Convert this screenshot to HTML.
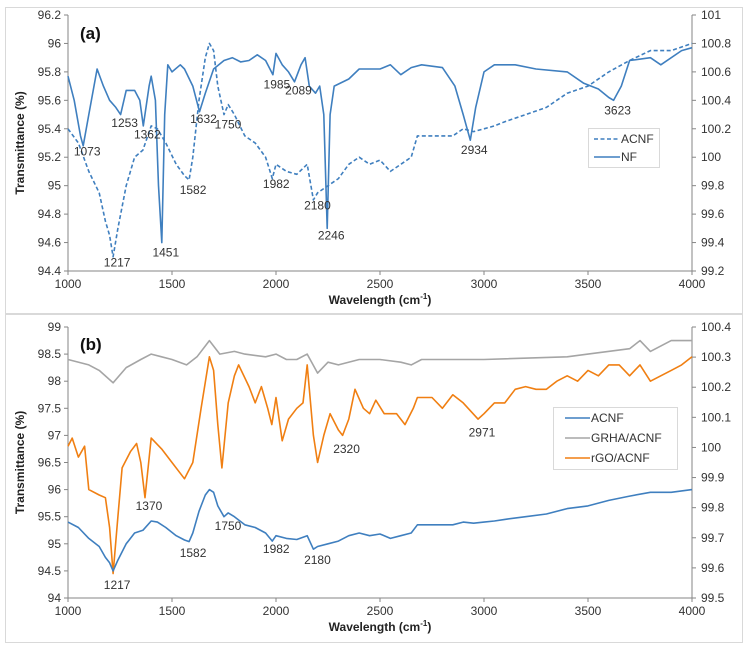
<!DOCTYPE html>
<html><head><meta charset="utf-8"><style>
body{margin:0;background:#fff;}
svg{display:block;font-family:"Liberation Sans",Arial,sans-serif;}
</style></head><body>
<svg id="chart" width="749" height="647" viewBox="0 0 749 647"></svg>
<script>
// ---- data ----
const acnfX=[1000,1050,1100,1150,1180,1200,1217,1240,1280,1320,1360,1400,1430,1470,1520,1560,1582,1600,1630,1660,1680,1700,1720,1750,1770,1800,1850,1900,1950,1982,2000,2050,2100,2150,2180,2200,2250,2300,2350,2400,2450,2500,2550,2600,2650,2680,2750,2850,2900,2950,3000,3050,3100,3200,3300,3400,3500,3600,3700,3800,3900,4000];
const acnfY=[95.4,95.3,95.1,94.95,94.75,94.65,94.5,94.7,95.0,95.2,95.25,95.42,95.4,95.3,95.15,95.07,95.04,95.2,95.6,95.9,96.0,95.95,95.7,95.5,95.57,95.5,95.35,95.3,95.2,95.05,95.15,95.1,95.08,95.15,94.9,94.95,95.0,95.05,95.15,95.2,95.15,95.18,95.1,95.15,95.2,95.35,95.35,95.35,95.4,95.38,95.4,95.42,95.45,95.5,95.55,95.65,95.7,95.8,95.88,95.95,95.95,96.0];
const nfX=[1000,1030,1060,1073,1100,1140,1170,1200,1230,1253,1280,1320,1345,1362,1390,1400,1420,1435,1451,1465,1480,1500,1540,1560,1600,1632,1660,1700,1750,1790,1830,1870,1910,1950,1985,2000,2030,2060,2089,2120,2140,2160,2190,2210,2230,2246,2260,2280,2350,2400,2500,2550,2600,2650,2700,2800,2860,2900,2934,2960,3000,3050,3150,3250,3400,3480,3550,3600,3623,3660,3700,3800,3850,3950,4000];
const nfY=[100.57,100.4,100.15,100.08,100.3,100.62,100.5,100.4,100.35,100.3,100.47,100.47,100.4,100.22,100.5,100.57,100.4,99.8,99.4,100.3,100.65,100.6,100.65,100.62,100.5,100.32,100.45,100.62,100.68,100.7,100.67,100.68,100.72,100.68,100.58,100.73,100.65,100.6,100.53,100.65,100.7,100.5,100.45,100.5,100.3,99.5,100.3,100.5,100.55,100.62,100.62,100.65,100.58,100.63,100.65,100.63,100.5,100.3,100.12,100.35,100.6,100.65,100.65,100.62,100.6,100.52,100.48,100.42,100.4,100.5,100.68,100.7,100.65,100.75,100.77];
const grhaX=[1000,1100,1150,1217,1280,1350,1400,1450,1500,1570,1620,1680,1730,1800,1850,1950,2000,2050,2100,2150,2200,2250,2300,2400,2500,2600,2650,2700,3000,3400,3500,3700,3750,3800,3900,4000];
const grhaY=[98.4,98.3,98.2,97.97,98.25,98.4,98.5,98.45,98.4,98.3,98.45,98.75,98.5,98.55,98.5,98.45,98.5,98.4,98.4,98.5,98.15,98.35,98.3,98.4,98.4,98.35,98.3,98.4,98.4,98.45,98.5,98.6,98.75,98.55,98.75,98.75];
const rgoX=[1000,1020,1050,1080,1100,1150,1180,1200,1217,1240,1260,1300,1330,1350,1370,1400,1450,1500,1540,1560,1600,1640,1680,1700,1720,1740,1770,1800,1820,1870,1900,1930,1960,1980,2000,2030,2060,2100,2130,2150,2180,2200,2230,2260,2300,2320,2350,2380,2420,2450,2480,2520,2580,2620,2660,2680,2750,2800,2850,2900,2971,3000,3050,3100,3150,3200,3250,3300,3350,3400,3450,3500,3550,3600,3650,3700,3750,3800,3850,3900,3950,4000];
const rgoY=[96.8,96.95,96.6,96.8,96.0,95.9,95.85,95.3,94.45,95.5,96.4,96.7,96.85,96.5,95.85,96.95,96.75,96.5,96.3,96.2,96.5,97.5,98.45,98.2,97.2,96.4,97.6,98.1,98.3,97.9,97.6,97.9,97.5,97.2,97.7,96.9,97.3,97.5,97.6,98.3,97.0,96.5,97.0,97.4,97.1,97.0,97.3,97.85,97.5,97.4,97.65,97.4,97.4,97.2,97.5,97.7,97.7,97.5,97.75,97.6,97.3,97.4,97.6,97.6,97.85,97.9,97.85,97.85,98.0,98.1,98.0,98.2,98.1,98.3,98.3,98.1,98.3,98.0,98.1,98.2,98.3,98.45];
const xTicks=[1000,1500,2000,2500,3000,3500,4000];
const aLeftTicks=["94.4","94.6","94.8","95","95.2","95.4","95.6","95.8","96","96.2"];
const aRightTicks=["99.2","99.4","99.6","99.8","100","100.2","100.4","100.6","100.8","101"];
const bLeftTicks=["94","94.5","95","95.5","96","96.5","97","97.5","98","98.5","99"];
const bRightTicks=["99.5","99.6","99.7","99.8","99.9","100","100.1","100.2","100.3","100.4"];
const aLabelText=["1073","1253","1362","1217","1451","1582","1632","1750","1985","2089","1982","2180","2246","2934","3623"];
const aLabelY=[95.24,95.44,95.36,94.46,94.53,94.97,95.47,95.43,95.71,95.67,95.01,94.86,94.65,95.25,95.53];
const bLabelText=["1217","1370","1582","1750","1982","2180","2320","2971"];
const bLabelY=[94.24,95.70,94.83,95.33,94.90,94.70,96.75,97.05];

const NS="http://www.w3.org/2000/svg";
const svg=document.getElementById('chart');
function mk(tag,attrs,parent,text){const e=document.createElementNS(NS,tag);for(const k in attrs)e.setAttribute(k,attrs[k]);if(text!==undefined)e.textContent=text;(parent||svg).appendChild(e);return e;}
const X0=68,X1=692;
const xs=v=>X0+(v-1000)/3000*(X1-X0);
function lin(d0,d1,r0,r1){return v=>r0+(v-d0)/(d1-d0)*(r1-r0);}
const C_BLUE="#3f7fbf",C_GRAY="#a5a5a5",C_OR="#f07f12";

function frame(y0,h,name){const r=mk('rect',{x:5.5,y:y0+0.5,width:737,height:h,fill:'none',stroke:'#d9d9d9'});}
frame(7,306,'panel-a-frame');frame(314,328,'panel-b-frame');

function axes(g,yTop,yBot,lt,rt,yl,yr,pfx){
  const gl=mk('g',{},g);
  mk('line',{x1:X0,y1:yTop,x2:X0,y2:yBot,stroke:'#868686'},gl);
  mk('line',{x1:X1,y1:yTop,x2:X1,y2:yBot,stroke:'#868686'},gl);
  mk('line',{x1:X0,y1:yBot,x2:X1,y2:yBot,stroke:'#868686'},gl);
  lt.forEach(t=>{const y=yl(parseFloat(t));mk('line',{x1:X0-4,y1:y,x2:X0,y2:y,stroke:'#868686'},gl);
    const e=mk('text',{x:X0-7,y:y+4,'text-anchor':'end','font-size':12,fill:'#333'},gl,t);});
  rt.forEach(t=>{const y=yr(parseFloat(t));mk('line',{x1:X1,y1:y,x2:X1+4,y2:y,stroke:'#868686'},gl);
    const e=mk('text',{x:X1+9,y:y+4,'font-size':12,fill:'#333'},gl,t);});
  xTicks.forEach(t=>{const x=xs(t);mk('line',{x1:x,y1:yBot,x2:x,y2:yBot+4,stroke:'#868686'},gl);
    const e=mk('text',{x:x,y:yBot+17,'text-anchor':'middle','font-size':12,fill:'#333'},gl,String(t));});
  const xt=mk('text',{x:(X0+X1)/2,y:yBot+33,'text-anchor':'middle','font-size':12,'font-weight':'bold',fill:'#222'},gl);
  
  xt.innerHTML='Wavelength (cm<tspan dy="-5" font-size="8">-1</tspan><tspan dy="5">)</tspan>';
  const yt=mk('text',{x:0,y:0,'text-anchor':'middle','font-size':12,'font-weight':'bold',fill:'#222',transform:`translate(24,${(yTop+yBot)/2}) rotate(-90)`},gl,'Transmittance (%)');
  
}
function line(xa,ya,ys,color,dash,name){const d=xa.map((x,i)=>(i?'L':'M')+xs(x).toFixed(1)+','+ys(ya[i]).toFixed(1)).join('');
  const p=mk('path',{d:d,fill:'none',stroke:color,'stroke-width':1.6,'stroke-dasharray':dash||'none','stroke-linejoin':'round'});
  }
function labels(txt,ys,yv,pfx){txt.forEach((t,i)=>{const e=mk('text',{x:xs(parseFloat(t))+4,y:ys(yv[i])+4,'text-anchor':'middle','font-size':12,fill:'#333'},svg,t);
  });}

// Panel A
const aT=15,aB=271;
const ayl=lin(94.4,96.2,aB,aT), ayr=lin(99.2,101,aB,aT);
axes(svg,aT,aB,aLeftTicks,aRightTicks,ayl,ayr,'panel-a');
line(acnfX,acnfY,ayl,C_BLUE,'4,2.5','panel-a-acnf-line');
line(nfX,nfY,ayr,C_BLUE,null,'panel-a-nf-line');
labels(aLabelText,ayl,aLabelY,'panel-a');
let pa=mk('text',{x:80,y:39,'font-size':17,'font-weight':'bold',fill:'#111'},svg,'(a)');
let lg=mk('g',{});
mk('rect',{x:588.5,y:128.5,width:71,height:39,fill:'#fff',stroke:'#d9d9d9'},lg);
mk('line',{x1:594,y1:139,x2:620,y2:139,stroke:C_BLUE,'stroke-width':1.6,'stroke-dasharray':'4,2.5'},lg);
mk('text',{x:621,y:143,'font-size':12,fill:'#333'},lg,'ACNF');
mk('line',{x1:594,y1:157,x2:620,y2:157,stroke:C_BLUE,'stroke-width':1.6},lg);
mk('text',{x:621,y:161,'font-size':12,fill:'#333'},lg,'NF');

// Panel B
const bT=327,bB=598;
const byl=lin(94,99,bB,bT), byr=lin(99.5,100.4,bB,bT);
axes(svg,bT,bB,bLeftTicks,bRightTicks,byl,byr,'panel-b');
line(grhaX,grhaY,byl,C_GRAY,null,'panel-b-grha-line');
line(rgoX,rgoY,byl,C_OR,null,'panel-b-rgo-line');
line(acnfX,acnfY,byl,C_BLUE,null,'panel-b-acnf-line');
labels(bLabelText,byl,bLabelY,'panel-b');
let pb=mk('text',{x:80,y:350,'font-size':17,'font-weight':'bold',fill:'#111'},svg,'(b)');
let lb=mk('g',{});
mk('rect',{x:553.5,y:407.5,width:124,height:62,fill:'#fff',stroke:'#d9d9d9'},lb);
[['ACNF',C_BLUE,418],['GRHA/ACNF',C_GRAY,438],['rGO/ACNF',C_OR,458]].forEach(r=>{
  mk('line',{x1:565,y1:r[2],x2:590,y2:r[2],stroke:r[1],'stroke-width':1.6},lb);
  mk('text',{x:591,y:r[2]+4,'font-size':12,fill:'#333'},lb,r[0]);});
</script>
</body></html>
